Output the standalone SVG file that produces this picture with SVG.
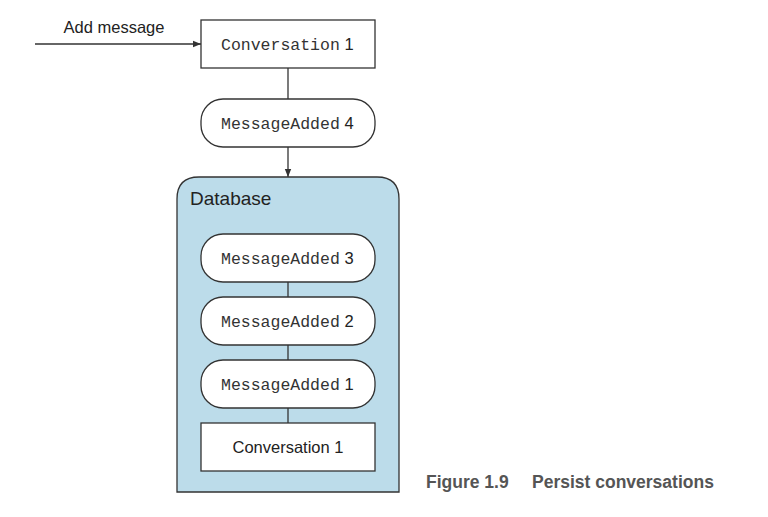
<svg xmlns="http://www.w3.org/2000/svg" width="768" height="517" viewBox="0 0 768 517">
<defs>
<marker id="arr" viewBox="0 0 10 10" refX="10" refY="5" markerWidth="8" markerHeight="8" markerUnits="userSpaceOnUse" orient="auto">
<path d="M0,1 L10,5 L0,9 Z" fill="#333"/>
</marker>
<style>
.box{fill:#fff;stroke:#333;stroke-width:1.3}
.line{stroke:#333;stroke-width:1.3;fill:none}
.mono{font-family:"Liberation Mono","Courier New",monospace;font-size:16.5px;fill:#333}
.sans{font-family:"Liberation Sans",Arial,sans-serif;font-size:16.5px;fill:#222}
.cap{font-family:"Liberation Sans",Arial,sans-serif;font-size:17.5px;font-weight:bold;fill:#555}
</style>
</defs>
<rect width="768" height="517" fill="#fff"/>
<g id="database">
<path d="M177,492 L177,199 Q177,177 199,177 L377,177 Q399,177 399,199 L399,492 Z" fill="#bcdcea" stroke="#333" stroke-width="1.3"/>
<text class="sans" x="190" y="205" style="font-size:19px">Database</text>
</g>
<g id="connectors">
<line class="line" x1="35" y1="44" x2="201" y2="44" marker-end="url(#arr)"/>
<line class="line" x1="288" y1="68" x2="288" y2="99"/>
<line class="line" x1="288" y1="147" x2="288" y2="177" marker-end="url(#arr)"/>
<line class="line" x1="288" y1="282" x2="288" y2="297"/>
<line class="line" x1="288" y1="345" x2="288" y2="360"/>
<line class="line" x1="288" y1="408" x2="288" y2="423"/>
</g>
<text class="sans" x="114" y="33" text-anchor="middle">Add message</text>
<g id="conv-top">
<rect class="box" x="201" y="20" width="174" height="48"/>
<text x="221" y="50"><tspan class="mono">Conversation</tspan><tspan class="sans"> 1</tspan></text>
</g>
<g id="msg4">
<rect class="box" x="201" y="99" width="174" height="48" rx="22"/>
<text x="221" y="129"><tspan class="mono">MessageAdded</tspan><tspan class="sans"> 4</tspan></text>
</g>
<g id="msg3">
<rect class="box" x="201" y="234" width="174" height="48" rx="22"/>
<text x="221" y="264"><tspan class="mono">MessageAdded</tspan><tspan class="sans"> 3</tspan></text>
</g>
<g id="msg2">
<rect class="box" x="201" y="297" width="174" height="48" rx="22"/>
<text x="221" y="327"><tspan class="mono">MessageAdded</tspan><tspan class="sans"> 2</tspan></text>
</g>
<g id="msg1">
<rect class="box" x="201" y="360" width="174" height="48" rx="22"/>
<text x="221" y="390"><tspan class="mono">MessageAdded</tspan><tspan class="sans"> 1</tspan></text>
</g>
<g id="conv-db">
<rect class="box" x="201" y="423" width="174" height="48"/>
<text class="sans" x="288" y="453" text-anchor="middle">Conversation 1</text>
</g>
<text class="cap" x="426" y="488">Figure 1.9<tspan x="532">Persist conversations</tspan></text>
</svg>
